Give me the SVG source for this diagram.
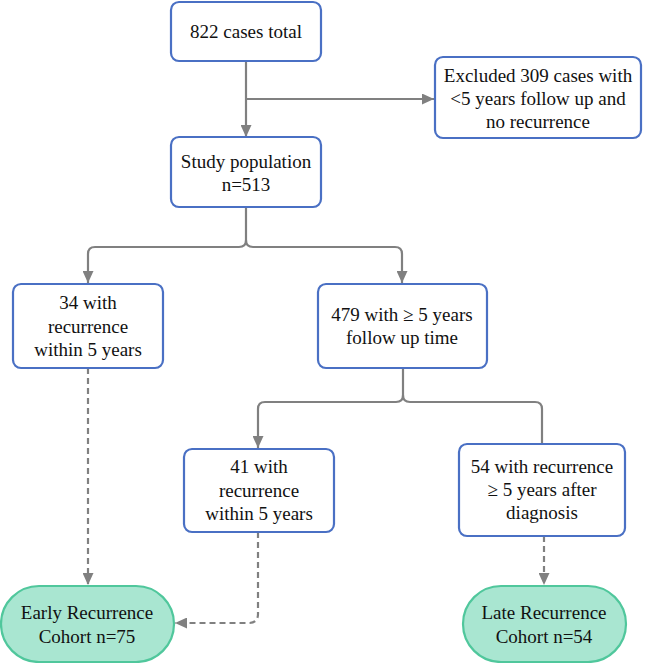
<svg xmlns="http://www.w3.org/2000/svg" width="648" height="663" viewBox="0 0 648 663">
<style>
.box{fill:#ffffff;stroke:#4a70c4;stroke-width:2.2}
.pill{fill:#a9e6d1;stroke:#50c79c;stroke-width:2.2}
.t{font-family:'Liberation Serif','Times New Roman','DejaVu Serif',serif;font-size:19px;fill:#111;text-anchor:middle}
.c{fill:none;stroke:#808080;stroke-width:2.2}
.d{fill:none;stroke:#808080;stroke-width:2.2;stroke-dasharray:6,4}
</style>
<defs>
<marker id="ah" markerUnits="userSpaceOnUse" markerWidth="12" markerHeight="11" viewBox="0 0 12 11" refX="12" refY="5.5" orient="auto">
<path d="M0,0 L12,5.5 L0,11 z" fill="#808080"/>
</marker>
</defs>
<g id="connectors">
<path class="c" d="M246 61 V137" marker-end="url(#ah)"/>
<path class="c" d="M246 99 H434" marker-end="url(#ah)"/>
<path class="c" d="M246 207 V240 Q246 247 239 247 H95 Q88 247 88 254 V283" marker-end="url(#ah)"/>
<path class="c" d="M246 240 Q246 247 253 247 H395 Q402 247 402 254 V283" marker-end="url(#ah)"/>
<path class="c" d="M403 368 V395 Q403 402 396 402 H265 Q258 402 258 409 V448" marker-end="url(#ah)"/>
<path class="c" d="M403 395 Q403 402 410 402 H535 Q542 402 542 409 V444"/>
<path class="d" d="M88 368 V585" marker-end="url(#ah)"/>
<path class="d" d="M258 532 V614 Q258 623 249 623 H175" marker-end="url(#ah)"/>
<path class="d" d="M544 536 V585" marker-end="url(#ah)"/>
</g>
<g id="total">
<rect class="box" x="171" y="2" width="150" height="59" rx="8"/>
<text class="t" x="246" y="38" font-family="Liberation Serif">822 cases total</text>
</g>
<g id="excluded">
<rect class="box" x="435" y="57" width="206" height="81" rx="8"/>
<text class="t" x="538" y="82">Excluded 309 cases with</text>
<text class="t" x="538" y="105">&lt;5 years follow up and</text>
<text class="t" x="538" y="128">no recurrence</text>
</g>
<g id="study">
<rect class="box" x="171" y="137" width="150" height="70" rx="8"/>
<text class="t" x="246" y="168">Study population</text>
<text class="t" x="246" y="191">n=513</text>
</g>
<g id="early34">
<rect class="box" x="13" y="284" width="150" height="84" rx="8"/>
<text class="t" x="88" y="309">34 with</text>
<text class="t" x="88" y="333">recurrence</text>
<text class="t" x="88" y="356">within 5 years</text>
</g>
<g id="followup">
<rect class="box" x="318" y="284" width="169" height="84" rx="8"/>
<text class="t" x="402" y="321">479 with ≥ 5 years</text>
<text class="t" x="402" y="344">follow up time</text>
</g>
<g id="early41">
<rect class="box" x="184" y="449" width="150" height="83" rx="8"/>
<text class="t" x="259" y="473">41 with</text>
<text class="t" x="259" y="497">recurrence</text>
<text class="t" x="259" y="520">within 5 years</text>
</g>
<g id="late54">
<rect class="box" x="459" y="444" width="166" height="92" rx="8"/>
<text class="t" x="542" y="473">54 with recurrence</text>
<text class="t" x="542" y="496">≥ 5 years after</text>
<text class="t" x="542" y="519">diagnosis</text>
</g>
<g id="earlyCohort">
<rect class="pill" x="1" y="586" width="173" height="76" rx="38"/>
<text class="t" x="87" y="619">Early Recurrence</text>
<text class="t" x="87" y="643">Cohort n=75</text>
</g>
<g id="lateCohort">
<rect class="pill" x="463" y="586" width="163" height="76" rx="38"/>
<text class="t" x="544" y="619">Late Recurrence</text>
<text class="t" x="544" y="643">Cohort n=54</text>
</g>
</svg>
